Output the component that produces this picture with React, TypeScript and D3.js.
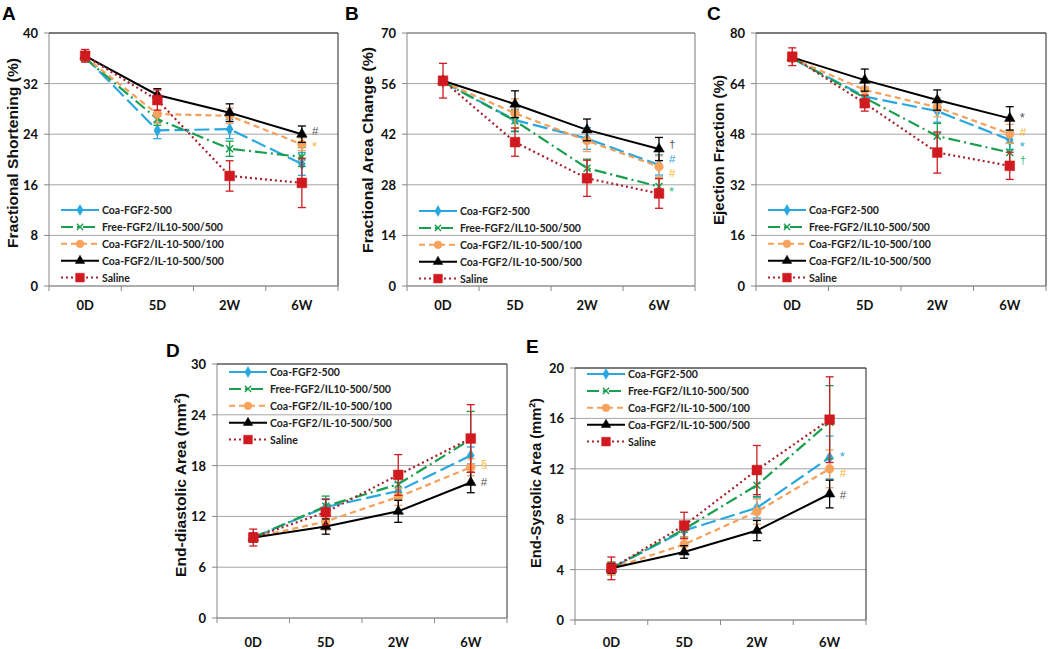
import React from 'react';
import * as d3 from 'd3';

// ---------------- data ----------------
const categories = ['0D', '5D', '2W', '6W'];
const seriesNames = [
  'Coa-FGF2-500',
  'Free-FGF2/IL10-500/500',
  'Coa-FGF2/IL-10-500/100',
  'Coa-FGF2/IL-10-500/500',
  'Saline',
];

// Panel A: Fractional Shortening (%)
const fsMean = [
  [36.2, 24.6, 24.8, 19.3],
  [36.0, 26.4, 21.7, 20.4],
  [36.2, 27.2, 26.9, 22.4],
  [36.4, 30.2, 27.4, 24.0],
  [36.4, 29.4, 17.4, 16.3],
];
const fsErr = [
  [0.6, 1.3, 1.5, 1.8],
  [0.5, 1.0, 1.2, 1.5],
  [0.5, 1.5, 1.2, 1.0],
  [0.6, 1.0, 1.4, 1.3],
  [1.0, 1.6, 2.4, 3.9],
];

// Panel B: Fractional Area Change (%)
const facMean = [
  [56.5, 45.9, 40.8, 33.5],
  [56.5, 45.7, 32.6, 27.5],
  [56.5, 47.8, 40.2, 33.0],
  [56.8, 50.3, 43.2, 37.9],
  [56.8, 39.8, 29.8, 25.6],
];
const facErr = [
  [1.0, 3.0, 3.0, 2.8],
  [1.0, 3.0, 2.5, 2.6],
  [1.0, 4.0, 3.0, 3.0],
  [1.0, 3.7, 3.0, 3.2],
  [4.8, 3.9, 5.0, 4.1],
];

// Panel C: Ejection Fraction (%)
const efMean = [
  [72.0, 59.9, 55.3, 46.2],
  [72.0, 59.5, 47.4, 42.2],
  [72.0, 62.0, 56.5, 48.1],
  [72.3, 65.1, 58.8, 53.0],
  [72.5, 57.8, 42.2, 38.0],
];
const efErr = [
  [1.0, 3.0, 3.5, 3.0],
  [1.0, 3.0, 4.0, 3.0],
  [1.0, 3.0, 3.0, 3.0],
  [1.0, 3.5, 3.2, 3.7],
  [2.8, 2.5, 6.5, 4.3],
];

// Panel D: End-diastolic Area (mm²)
const edaMean = [
  [9.5, 13.1, 15.0, 19.2],
  [9.5, 13.2, 15.8, 21.1],
  [9.5, 11.4, 14.3, 17.8],
  [9.5, 10.8, 12.6, 16.0],
  [9.5, 12.5, 16.9, 21.2],
];
const edaErr = [
  [0.5, 1.0, 1.0, 1.0],
  [0.5, 1.2, 1.0, 3.3],
  [0.5, 1.0, 1.0, 1.0],
  [0.5, 0.9, 1.3, 1.2],
  [1.0, 1.5, 2.4, 4.0],
];

// Panel E: End-Systolic Area (mm²)
const esaMean = [
  [4.1, 7.1, 8.9, 12.9],
  [4.1, 7.2, 10.7, 15.7],
  [4.1, 6.0, 8.6, 12.0],
  [4.1, 5.4, 7.1, 10.0],
  [4.1, 7.5, 11.9, 15.9],
];
const esaErr = [
  [0.5, 0.6, 0.8, 1.7],
  [0.5, 0.6, 0.9, 2.9],
  [0.5, 0.6, 1.0, 1.5],
  [0.4, 0.5, 0.8, 1.1],
  [0.9, 1.05, 1.95, 3.4],
];

// significance marks next to 6W: [symbol, colour key, y value]
const fsMarks: [string, string, number][] = [['#', 'dark', 24.5], ['*', 'gold', 22.3]];
const facMarks: [string, string, number][] = [['†', 'dark', 39.3], ['#', 'blue', 35.1], ['#', 'gold', 31.3], ['*', 'teal', 26.8]];
const efMarks: [string, string, number][] = [['*', 'dark', 53.8], ['#', 'gold', 48.8], ['*', 'blue', 44.8], ['†', 'teal', 39.8]];
const edaMarks: [string, string, number][] = [['§', 'gold', 18.2], ['#', 'dark', 16.1]];
const esaMarks: [string, string, number][] = [['*', 'blue', 13.1], ['#', 'gold', 11.7], ['#', 'dark', 9.9]];

// ---------------- styles ----------------
const seriesStyle = [
  { color: '#29a8e0', mcolor: '#29a8e0', dash: '15,5', sym: d3.symbolDiamond, size: 42, fill: true },
  { color: '#1a9f4e', mcolor: '#1a9f4e', dash: '12,4,2,4', sym: d3.symbolTimes, size: 34, fill: false },
  { color: '#f5a05a', mcolor: '#f7a35c', dash: '6,4', sym: d3.symbolCircle, size: 60, fill: true },
  { color: '#000000', mcolor: '#000000', dash: '', sym: d3.symbolTriangle, size: 48, fill: true },
  { color: '#a3222e', mcolor: '#d01a1f', dash: '2,3', sym: d3.symbolSquare, size: 95, fill: true },
];
const markColors: Record<string, string> = {
  dark: '#555555',
  gold: '#fbb829',
  blue: '#29a8e0',
  teal: '#2fba7a',
};

const FONT_TXT = 'Lato, "Open Sans", sans-serif';
const FONT_TITLE = '"Liberation Sans", Arial, sans-serif';

type PanelCfg = {
  left: number; right: number; top: number; bottom: number;
  yMax: number; step: number;
  title: string; titleX: number; titleY: number; titleLen: number;
  letter: string; letterX: number; letterY: number;
  legendTop: number; xLabelY: number; border: string;
  means: number[][]; errs: number[][]; marks: [string, string, number][];
};

const panels: PanelCfg[] = [
  { left: 49, right: 338, top: 33, bottom: 286, yMax: 40, step: 8, title: 'Fractional Shortening (%)', titleX: 12, titleY: 153, titleLen: 190, letter: 'A', letterX: 2, letterY: 20, legendTop: 210, xLabelY: 310, border: '#222', means: fsMean, errs: fsErr, marks: fsMarks },
  { left: 407, right: 695, top: 33, bottom: 286, yMax: 70, step: 14, title: 'Fractional Area Change (%)', titleX: 367, titleY: 150, titleLen: 206, letter: 'B', letterX: 345, letterY: 20, legendTop: 211, xLabelY: 310, border: '#777', means: facMean, errs: facErr, marks: facMarks },
  { left: 756, right: 1046, top: 33, bottom: 286, yMax: 80, step: 16, title: 'Ejection Fraction (%)', titleX: 718, titleY: 150, titleLen: 150, letter: 'C', letterX: 707, letterY: 20, legendTop: 210, xLabelY: 310, border: '#222', means: efMean, errs: efErr, marks: efMarks },
  { left: 217, right: 507, top: 364, bottom: 618, yMax: 30, step: 6, title: 'End-diastolic Area (mm²)', titleX: 180, titleY: 485, titleLen: 184, letter: 'D', letterX: 166, letterY: 357, legendTop: 372, xLabelY: 647, border: '#333', means: edaMean, errs: edaErr, marks: edaMarks },
  { left: 575, right: 866, top: 368, bottom: 620, yMax: 20, step: 4, title: 'End-Systolic Area (mm²)', titleX: 535, titleY: 483, titleLen: 170, letter: 'E', letterX: 526, letterY: 353, legendTop: 374, xLabelY: 647, border: '#222', means: esaMean, errs: esaErr, marks: esaMarks },
];

function Panel({ p }: { p: PanelCfg }) {
  const x = d3.scaleBand<string>().domain(categories).range([p.left, p.right]);
  const y = d3.scaleLinear().domain([0, p.yMax]).range([p.bottom, p.top]);
  const ticks = d3.range(0, p.yMax + 0.001, p.step);
  const cx = (c: string) => (x(c) as number) + x.bandwidth() / 2;
  const line = d3.line<number>().x((_, i) => cx(categories[i])).y((v) => y(v));
  const lastX = cx(categories[categories.length - 1]);
  const rowH = 16.9;
  return (
    <g>
      {ticks.map((t) => (
        <line key={'g' + t} x1={p.left} x2={p.right} y1={y(t)} y2={y(t)} stroke="#a6a6a6" strokeWidth={1} />
      ))}
      {ticks.map((t) => (
        <g key={'t' + t}>
          <line x1={p.left - 5} x2={p.left} y1={y(t)} y2={y(t)} stroke="#888" />
          <text x={p.left - 11} y={y(t)} textAnchor="end" dominantBaseline="central" fontFamily={FONT_TXT} fontWeight={700} fontSize={13} fill="#111">{t}</text>
        </g>
      ))}
      <line x1={p.left} x2={p.left} y1={p.top} y2={p.bottom} stroke="#888" />
      <line x1={p.left} x2={p.right} y1={p.top} y2={p.top} stroke={p.border} />
      <line x1={p.right} x2={p.right} y1={p.top} y2={p.bottom} stroke={p.border} />
      <line x1={p.left} x2={p.right} y1={p.bottom} y2={p.bottom} stroke="#888" />
      {categories.map((c) => (
        <line key={'xt' + c} x1={x(c) as number} x2={x(c) as number} y1={p.bottom} y2={p.bottom + 5} stroke="#888" />
      ))}
      <line x1={p.right} x2={p.right} y1={p.bottom} y2={p.bottom + 5} stroke="#888" />
      {categories.map((c) => (
        <text key={'xl' + c} x={cx(c)} y={p.xLabelY} textAnchor="middle" fontFamily={FONT_TXT} fontWeight={700} fontSize={13} fill="#111">{c}</text>
      ))}
      <text transform={`translate(${p.titleX},${p.titleY}) rotate(-90)`} textAnchor="middle" dominantBaseline="central" fontFamily={FONT_TITLE} fontWeight={700} fontSize={15.5} textLength={p.titleLen} lengthAdjust="spacingAndGlyphs" fill="#111">{p.title}</text>
      <text x={p.letterX} y={p.letterY} fontFamily={FONT_TITLE} fontWeight={700} fontSize={19} fill="#000">{p.letter}</text>
      {p.means.map((m, si) => (
        <path key={'l' + si} d={line(m) as string} fill="none" stroke={seriesStyle[si].color} strokeWidth={si === 3 ? 2 : 2.2} strokeDasharray={seriesStyle[si].dash} />
      ))}
      {p.means.map((m, si) => {
        const st = seriesStyle[si];
        const sym = d3.symbol().type(st.sym).size(st.size)() as string;
        return (
          <g key={'s' + si}>
            {m.map((v, i) => {
              const e = p.errs[si][i];
              const px = cx(categories[i]);
              return (
                <g key={i}>
                  <line x1={px} x2={px} y1={y(v - e)} y2={y(v + e)} stroke={st.mcolor} strokeWidth={1.3} />
                  <line x1={px - 4} x2={px + 4} y1={y(v + e)} y2={y(v + e)} stroke={st.mcolor} strokeWidth={1.3} />
                  <line x1={px - 4} x2={px + 4} y1={y(v - e)} y2={y(v - e)} stroke={st.mcolor} strokeWidth={1.3} />
                  <path d={sym} transform={`translate(${px},${y(v)})`} fill={st.fill ? st.mcolor : 'none'} stroke={st.mcolor} strokeWidth={st.fill ? 0.5 : 1.5} />
                </g>
              );
            })}
          </g>
        );
      })}
      {p.marks.map(([s, c, v], i) => (
        <text key={'m' + i} x={lastX + 10} y={y(v) + (s === '*' ? 2 : 0)} dominantBaseline="central" fontFamily={FONT_TITLE} fontSize={s === '*' ? 13 : 11.5} fill={markColors[c]}>{s}</text>
      ))}
      {seriesNames.map((n, si) => {
        const st = seriesStyle[si];
        const ly = p.legendTop + si * rowH;
        const lx0 = p.left + 12;
        const lx1 = p.left + 50;
        const sym = d3.symbol().type(st.sym).size(st.size * 0.8)() as string;
        return (
          <g key={'lg' + si}>
            <line x1={lx0} x2={lx1} y1={ly} y2={ly} stroke={st.color} strokeWidth={2} strokeDasharray={si === 0 ? '' : st.dash} />
            <path d={sym} transform={`translate(${(lx0 + lx1) / 2},${ly})`} fill={st.fill ? st.mcolor : 'none'} stroke={st.mcolor} strokeWidth={st.fill ? 0.5 : 1.4} />
            <text x={p.left + 53} y={ly} dominantBaseline="central" fontFamily={FONT_TXT} fontWeight={700} fontSize={10.5} fill="#222">{n}</text>
          </g>
        );
      })}
    </g>
  );
}

export default function App() {
  return (
    <svg width={1050} height={649} style={{ position: 'absolute', left: 0, top: 0, background: '#fff' }}>
      <rect x={0} y={0} width={1050} height={649} fill="#fff" />
      {panels.map((p) => (
        <Panel key={p.letter} p={p} />
      ))}
    </svg>
  );
}
